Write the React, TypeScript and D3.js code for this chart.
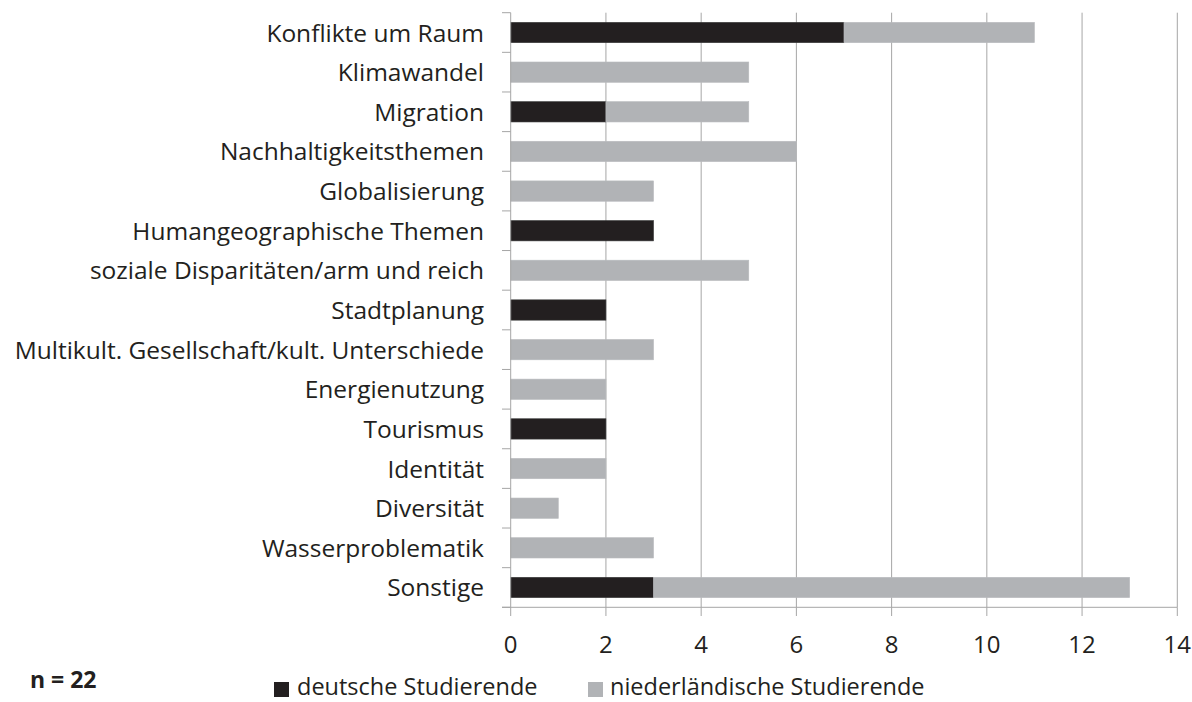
import React from 'react';
import * as d3 from 'd3';

const categories = [
  'Konflikte um Raum',
  'Klimawandel',
  'Migration',
  'Nachhaltigkeitsthemen',
  'Globalisierung',
  'Humangeographische Themen',
  'soziale Disparitäten/arm und reich',
  'Stadtplanung',
  'Multikult. Gesellschaft/kult. Unterschiede',
  'Energienutzung',
  'Tourismus',
  'Identität',
  'Diversität',
  'Wasserproblematik',
  'Sonstige',
];
const deutsche = [7, 0, 2, 0, 0, 3, 0, 2, 0, 0, 2, 0, 0, 0, 3];
const niederlaendische = [4, 5, 3, 6, 3, 0, 5, 0, 3, 2, 0, 2, 1, 3, 10];
const xTicks = [0, 2, 4, 6, 8, 10, 12, 14];
const seriesNames = ['deutsche Studierende', 'niederländische Studierende'];
const colors = ['#231f20', '#b1b3b6'];

const W = 1192;
const H = 702;
const FONT = '"Open Sans", sans-serif';
const TEXT = '#231f20';
const GRID = '#a6a6a6';

const App = () => {
  const top = 12.7;
  const bottom = 607.3;
  const x = d3.scaleLinear().domain([0, 14]).range([510.7, 1177.3]);
  const y = d3.scaleBand<string>()
    .domain(categories)
    .range([top, bottom])
    .paddingInner(0.487)
    .paddingOuter(0.2435);
  const step = y.step();

  const rows = categories.map((c, i) => ({
    c,
    segs: [
      { x0: 0, x1: deutsche[i], color: colors[0] },
      { x0: deutsche[i], x1: deutsche[i] + niederlaendische[i], color: colors[1] },
    ].filter(s => s.x1 > s.x0),
  }));

  return (
    <svg width={W} height={H} style={{ position: 'absolute', left: 0, top: 0, background: '#fff' }}>
      {/* vertical gridlines */}
      {xTicks.slice(1).map(t => (
        <line key={t} x1={x(t)} x2={x(t)} y1={top} y2={bottom} stroke={GRID} strokeWidth={1} />
      ))}
      {/* bars */}
      {rows.map(r => r.segs.map((s, j) => (
        <rect
          key={r.c + j}
          x={x(s.x0)}
          y={y(r.c)}
          width={x(s.x1) - x(s.x0)}
          height={y.bandwidth()}
          fill={s.color}
          stroke={s.color === colors[0] ? '#3a3a3a' : '#b9bbbe'}
          strokeWidth={0.6}
        />
      )))}
      {/* left axis */}
      <line x1={x(0)} x2={x(0)} y1={top} y2={bottom} stroke={GRID} />
      {d3.range(categories.length + 1).map(i => (
        <line key={i} x1={502} x2={x(0)} y1={top + i * step} y2={top + i * step} stroke={GRID} />
      ))}
      {/* bottom axis */}
      <line x1={502} x2={x(14)} y1={bottom} y2={bottom} stroke={GRID} />
      {xTicks.map(t => (
        <g key={t}>
          <line x1={x(t)} x2={x(t)} y1={bottom} y2={616} stroke={GRID} />
          <text x={x(t)} y={652.5} textAnchor="middle"
            fontFamily={FONT} fontSize={24} fill={TEXT}>{t}</text>
        </g>
      ))}
      {/* category labels */}
      {categories.map(c => (
        <text key={c} x={484} y={(y(c) ?? 0) + y.bandwidth() / 2 + 9} textAnchor="end"
          fontFamily={FONT} fontSize={24.5} fill={TEXT}>{c}</text>
      ))}
      {/* legend */}
      <rect x={274} y={682} width={15} height={15} fill={colors[0]} />
      <text x={297} y={695} fontFamily={FONT} fontSize={23.5} fill={TEXT}>{seriesNames[0]}</text>
      <rect x={588} y={682} width={15} height={15} fill={colors[1]} />
      <text x={610} y={695} fontFamily={FONT} fontSize={23.5} fill={TEXT}>{seriesNames[1]}</text>
      <text x={30} y={688} fontFamily={FONT} fontSize={23} fontWeight="bold" fill={TEXT}>n = 22</text>
    </svg>
  );
};

export default App;
